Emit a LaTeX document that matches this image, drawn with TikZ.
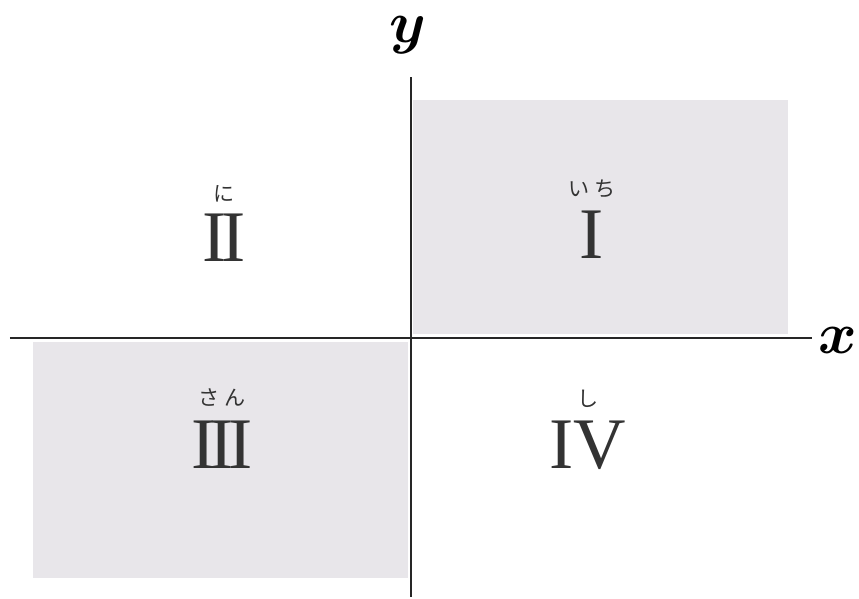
\RequirePackage{fix-cm}
\documentclass[tikz,border=0pt]{standalone}
\usepackage{amsmath,bm}
\usepackage{fontspec}
\setmainfont{Liberation Serif}
\newfontfamily\kana{Noto Sans CJK JP}
\usetikzlibrary{positioning}
\definecolor{quadgray}{RGB}{232,230,234}
\tikzset{quadfill/.style={fill=quadgray,draw=none}}
\tikzset{axisline/.style={line width=2.2pt,black!85}}
\tikzset{numeral/.style={inner sep=0pt,font=\fontsize{62}{62}\selectfont,text=black!80}}
\tikzset{ruby/.style={inner sep=0pt,font=\kana\fontsize{18}{18}\selectfont,text=black!80}}
\tikzset{axislabel/.style={inner sep=0pt,font=\fontsize{50}{50}\selectfont}}
\def\II{I\kern-0.08emI}
\def\III{I\kern-0.08emI\kern-0.08emI}

\begin{document}
\begin{tikzpicture}[x=0.03cm,y=0.03cm]
		\useasboundingbox (-411,-261) rectangle (448,338);
		\fill[quadfill] (2,4) rectangle (377,238);
		\fill[quadfill] (-378,-4) rectangle (-3,-240);

			\coordinate (o) at (0,0);
			\coordinate (xl) at (-401,0);
			\coordinate (xr) at (401,0);
			\coordinate (yb) at (0,-259);
			\coordinate (yt) at (0,261);
			\draw[axisline] (xl) -- (xr);
			\draw[axisline] (yb) -- (yt);

				\node[axislabel] (xlab) at (427,-2) {$\bm{x}$};
				\node[axislabel] (ylab) at (-3,303) {$\bm{y}$};

				\node[numeral,label={[ruby,label distance=11pt]above:い\kern0.25emち}] (q1) at (181,103) {I};
				\node[numeral,label={[ruby,label distance=10pt]above:に}] (q2) at (-187,100) {\II};
				\node[numeral,label={[ruby,label distance=12pt]above:さ\kern0.25emん}] (q3) at (-189,-107) {\III};
				\node[numeral,label={[ruby,label distance=11pt]above:し}] (q4) at (177,-107) {IV};
	\end{tikzpicture}
\end{document}
